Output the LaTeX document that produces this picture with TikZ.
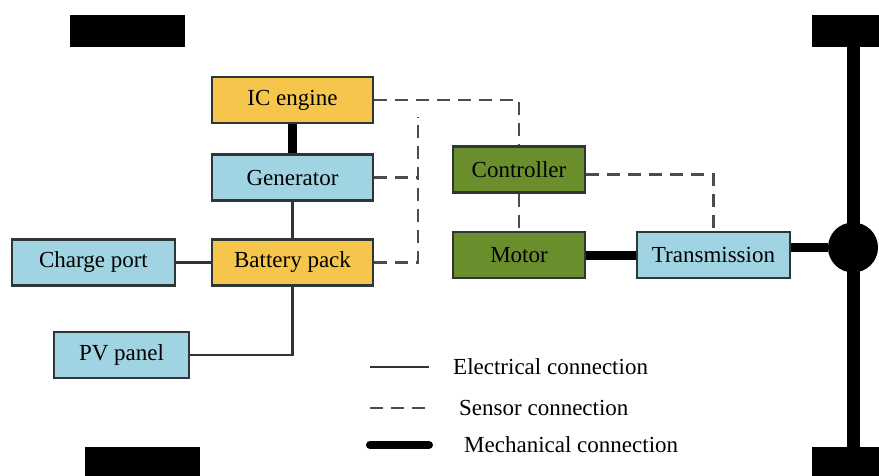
\documentclass[tikz,border=0pt]{standalone}
\usepackage{fontspec}
\setmainfont{Liberation Serif}
\definecolor{engyellow}{RGB}{245,198,75}
\definecolor{partblue}{RGB}{160,212,226}
\definecolor{ctrlgreen}{RGB}{107,142,45}
\definecolor{boxline}{RGB}{45,55,55}
\tikzset{
  unit/.style={draw=boxline,line width=2.2pt,minimum height=46pt,inner sep=0pt},
  elec/.style={line width=2.4pt,draw=black!80},
  sensor/.style={line width=2.4pt,draw=black!70,dash pattern=on 13pt off 8pt},
  mech/.style={line width=9pt},
  mechkey/.style={line width=8pt,line cap=round},
}
\begin{document}
\begin{tikzpicture}[x=1pt,y=-1pt,
 every node/.style={font=\fontsize{23}{27}\selectfont}]
 \useasboundingbox (0,0) rectangle (879,476);
 \foreach \xa/\ya/\xb/\yb in {70/15/185/47,812/15/879/47,
                              85/447/200/476,812/447/879/476}{
   \fill (\xa,\ya) rectangle (\xb,\yb);
 }
 \node[unit,fill=engyellow,minimum width=161pt] (ice) at (292.5,100) {IC engine};
 \node[unit,fill=partblue,minimum width=161pt] (gen) at (292.5,177.5) {Generator};
 \node[unit,fill=engyellow,minimum width=161pt] (bat) at (292.5,262.5) {Battery pack};
 \node[unit,fill=partblue,minimum width=163pt] (chg) at (93.5,262.5) {Charge port};
 \node[unit,fill=partblue,minimum width=135pt] (pv) at (121.5,355) {PV panel};
 \node[unit,fill=ctrlgreen,minimum width=132pt] (ctrl) at (519,169.5) {Controller};
 \node[unit,fill=ctrlgreen,minimum width=132pt] (motor) at (519,255) {Motor};
 \node[unit,fill=partblue,minimum width=153pt] (trans) at (713.5,255) {Transmission};
 \node[circle,fill=black,minimum size=50pt,inner sep=0pt] (diff) at (853,247.5) {};
 \coordinate (axtop) at (853,46);
 \coordinate (axbot) at (853,448);
 \coordinate (bustop) at (418,117);

 \draw[elec] (gen.south) -- (bat.north);
 \draw[elec] (chg.east) -- (bat.west);
 \draw[elec] (pv.east) -| (bat.south);
 \draw[sensor] (ice.east) -| (ctrl.north);
 \draw[sensor] (gen.east) -- (gen.east -| bustop);
 \draw[sensor] (bat.east) -| (bustop);
 \draw[sensor] (ctrl.south) -- (motor.north);
 \draw[sensor] ([yshift=-5pt]ctrl.east) -| (trans.north);
 \draw[mech] (ice.south) -- (gen.north);
 \draw[mech] (motor.east) -- (trans.west);
 \draw[mech] (diff.west) -- (diff.west -| trans.east);
 \draw[line width=13pt] (axtop) -- (diff.center) -- (axbot);

 \foreach \y/\s/\t/\dx in {367/elec/Electrical connection/453,
                           408/sensor/Sensor connection/459,
                           445/mechkey/Mechanical connection/464}{
   \draw[style=\s] (370,\y) -- (429,\y);
   \node[anchor=west,inner sep=0pt] at (\dx,\y) {\t};
 }
\end{tikzpicture}
\end{document}
